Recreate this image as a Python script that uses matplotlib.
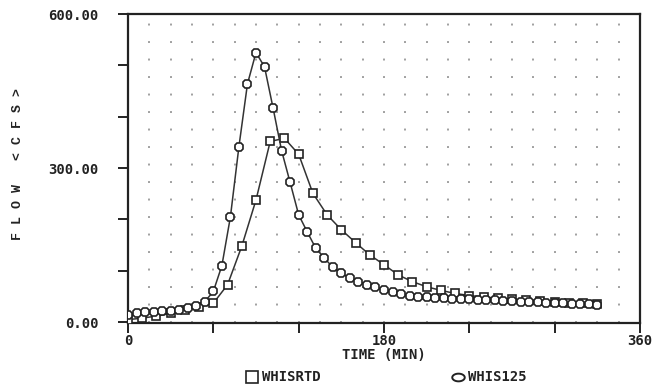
import numpy as np
import matplotlib
matplotlib.use("Agg")
import matplotlib.pyplot as plt
from matplotlib.path import Path
from matplotlib.lines import Line2D

# ---- data ----
t_rtd = list(range(0, 331, 10))
q_rtd = [5, 8, 12, 17, 24, 30, 37, 73, 148, 238, 352, 358, 327, 251, 209, 180,
         155, 131, 112, 92, 79, 69, 62, 56, 52, 49, 47, 45, 43, 41, 40, 38, 37, 36]

t_125 = list(range(0, 331, 6))
q_125 = [15, 17, 19, 20, 21, 22, 24, 27, 32, 40, 60, 110, 205, 342, 464, 525,
         497, 417, 334, 272, 209, 176, 144, 125, 107, 95, 86, 79, 73, 68, 63,
         59, 55, 52, 50, 49, 48, 47, 46, 46, 45, 44, 44, 43, 42, 41, 40, 40,
         39, 38, 37, 37, 36, 35, 35, 34]

series_names = ["WHISRTD", "WHIS125"]
x_ticks = [0, 60, 120, 180, 240, 300, 360]
x_ticklabels = ["0", "", "", "180", "", "", "360"]
y_ticks = [0, 100, 200, 300, 400, 500, 600]
y_ticklabels = ["0.00", "", "", "300.00", "", "", "600.00"]

FONT = "DejaVu Sans Mono"

# ellipse marker for WHIS125
theta = np.linspace(0, 2 * np.pi, 40)
ell = Path(np.column_stack([1.3 * np.cos(theta), 0.8 * np.sin(theta)]), closed=True)

fig = plt.figure(figsize=(6.53, 3.90), dpi=100)
ax = fig.add_axes([128 / 653, 67 / 390, 512 / 653, 309 / 390])

# dotted vertical grid every 15 min
for gx in range(15, 360, 15):
    ax.axvline(gx, color="#a0a0a0", linestyle=(0, (1, 8)), linewidth=1.4, zorder=0)

ax.plot(t_rtd, q_rtd, color="#333333", linewidth=1.1, marker="s", markersize=6,
        markerfacecolor="white", markeredgecolor="#222222", markeredgewidth=1.2, zorder=3)
ax.plot(t_125, q_125, color="#333333", linewidth=1.1, marker="8", markersize=6.5,
        markerfacecolor="white", markeredgecolor="#222222", markeredgewidth=1.2, zorder=4)

ax.set_xlim(0, 360)
ax.set_ylim(-1.5, 600)
ax.set_xticks(x_ticks)
ax.set_xticklabels(x_ticklabels)
ax.set_yticks(y_ticks)
ax.set_yticklabels(y_ticklabels)
ax.tick_params(axis="both", direction="out", length=7, width=1.4, color="#222222",
               labelsize=10)
ax.tick_params(axis="y", pad=14)
ax.tick_params(axis="x", pad=1)
for lab in ax.get_xticklabels() + ax.get_yticklabels():
    lab.set_fontfamily(FONT)
    lab.set_fontweight("bold")
    lab.set_color("#222222")
for sp in ax.spines.values():
    sp.set_linewidth(1.6)
    sp.set_color("#222222")

ax.set_xlabel("TIME (MIN)", fontfamily=FONT, fontweight="bold", fontsize=10,
              color="#222222", labelpad=0)

fig.text(18 / 653, 1 - 164 / 390, "F L O W   < C F S >", rotation=90,
         ha="center", va="center", fontfamily="Liberation Mono",
         fontweight="bold", fontsize=9.5, color="#222222")

# legend
ly = 1 - 377 / 390
fig.add_artist(Line2D([252 / 653], [ly], marker="s", markersize=8,
                      markerfacecolor="white", markeredgecolor="#222222",
                      markeredgewidth=1.2, transform=fig.transFigure))
fig.text(262 / 653, ly, series_names[0], ha="left", va="center",
         fontfamily=FONT, fontweight="bold", fontsize=10, color="#222222")
fig.add_artist(Line2D([458 / 653], [ly], marker=ell, markersize=9,
                      markerfacecolor="white", markeredgecolor="#222222",
                      markeredgewidth=1.4, transform=fig.transFigure))
fig.text(468 / 653, ly, series_names[1], ha="left", va="center",
         fontfamily=FONT, fontweight="bold", fontsize=10, color="#222222")

fig.savefig("out.png", dpi=100)
